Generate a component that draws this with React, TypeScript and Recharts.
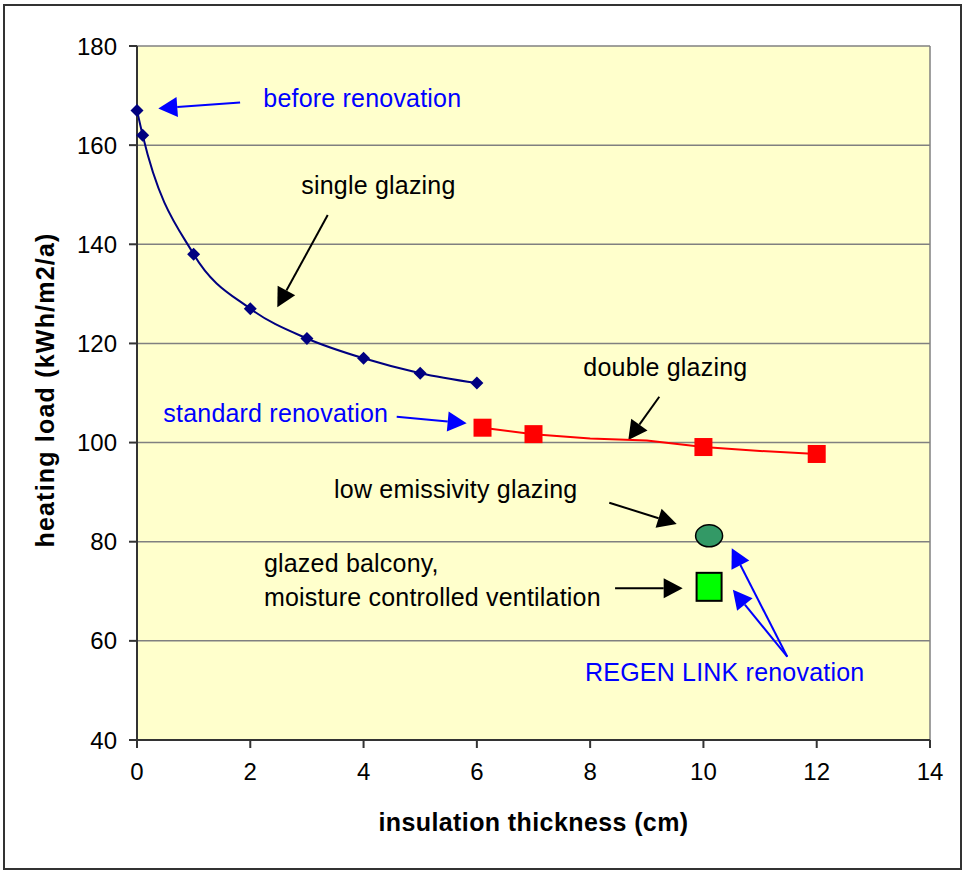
import React from "react"
import {
  ComposedChart,
  Line,
  Scatter,
  XAxis,
  YAxis,
  CartesianGrid,
  ReferenceLine,
  ReferenceDot,
  Label,
} from "recharts"

// insulation thickness (cm) / heating load (kWh/m2/a)
const singleX = [0, 0.1, 1, 2, 3, 4, 5, 6]
const singleY = [167, 162, 138, 127, 121, 117, 114, 112]

const doubleX = [6.1, 7, 8, 9, 10, 11, 12]
const doubleY = [103, 101.7, 100.8, 100.4, 99.1, 98.3, 97.7]
const doubleMarkX = [6.1, 7, 10, 12]
const doubleMarkY = [103, 101.7, 99.1, 97.7]

const lowEX = [10.1]
const lowEY = [81.2]
const balconyX = [10.1]
const balconyY = [70.9]

const xTicks = [0, 2, 4, 6, 8, 10, 12, 14]
const yTicks = [40, 60, 80, 100, 120, 140, 160, 180]

// annotations, in data units
const blueNotes = [
  { text: "before renovation", x: 2.23, y: 167.6 },
  { text: "standard renovation", x: 0.465, y: 104.1 },
  { text: "REGEN LINK renovation", x: 7.91, y: 51.9 },
]
const blackNotes = [
  { text: "single glazing", x: 2.9, y: 150.1 },
  { text: "double glazing", x: 7.88, y: 113.4 },
  { text: "low emissivity glazing", x: 3.48, y: 88.9 },
  { text: "glazed balcony,", x: 2.24, y: 73.8 },
  { text: "moisture controlled ventilation", x: 2.24, y: 67.0 },
]
const blueArrows = [
  { x1: 1.82, y1: 168.6, x2: 0.376, y2: 167.4 },
  { x1: 4.585, y1: 105.2, x2: 5.82, y2: 103.9 },
  { x1: 11.48, y1: 56.8, x2: 10.5, y2: 78.7 },
  { x1: 11.48, y1: 56.8, x2: 10.52, y2: 70.3 },
]
const blackArrows = [
  { x1: 3.367, y1: 145.9, x2: 2.477, y2: 127.3 },
  { x1: 9.221, y1: 109.25, x2: 8.674, y2: 100.5 },
  { x1: 8.338, y1: 87.87, x2: 9.528, y2: 83.57 },
  { x1: 8.44, y1: 70.6, x2: 9.634, y2: 70.6 },
]

const toPoints = (xs: number[], ys: number[]) => xs.map((x, i) => ({ x, y: ys[i] }))

const singleData = toPoints(singleX, singleY)
const doubleData = toPoints(doubleX, doubleY)
const doubleMarks = toPoints(doubleMarkX, doubleMarkY)
const lowEData = toPoints(lowEX, lowEY)
const balconyData = toPoints(balconyX, balconyY)

const FONT = "'Liberation Sans', Arial, Helvetica, sans-serif"

const Diamond = (props: any) => {
  const { cx, cy, index } = props
  const r = 6.5
  return (
    <path
      key={`d-${index}`}
      d={`M${cx},${cy - r}L${cx + r},${cy}L${cx},${cy + r}L${cx - r},${cy}Z`}
      fill="#000080"
    />
  )
}

const RedSquare = (props: any) => {
  const { cx, cy, index } = props
  return <rect key={`s-${index}`} x={cx - 9} y={cy - 9} width={18} height={18} fill="#FF0000" />
}

const arrowShape = (color: string) => (props: any) => {
  const { x1, y1, x2, y2 } = props
  if ([x1, y1, x2, y2].some((v) => typeof v !== "number")) return <g />
  const dx = x2 - x1
  const dy = y2 - y1
  const len = Math.sqrt(dx * dx + dy * dy)
  const ux = dx / len
  const uy = dy / len
  const L = 19
  const W = 10
  const bx = x2 - ux * L
  const by = y2 - uy * L
  return (
    <g>
      <line x1={x1} y1={y1} x2={bx} y2={by} stroke={color} strokeWidth={2} />
      <path
        d={`M${x2},${y2}L${bx - uy * W},${by + ux * W}L${bx + uy * W},${by - ux * W}Z`}
        fill={color}
      />
    </g>
  )
}

const noteShape = (text: string, color: string) => (props: any) => (
  <text
    x={props.cx}
    y={props.cy}
    fill={color}
    fontFamily={FONT}
    fontSize={25}
    letterSpacing={0.2}
  >
    {text}
  </text>
)

export default function App() {
  return (
    <div style={{ position: "absolute", left: 0, top: 0, width: 964, height: 870, background: "#fff" }}>
      <div
        style={{
          position: "absolute",
          left: 3,
          top: 4,
          width: 955,
          height: 862,
          border: "2px solid #333",
          pointerEvents: "none",
        }}
      />
      <ComposedChart
        width={964}
        height={870}
        margin={{ top: 46, right: 34, bottom: 0, left: 0 }}
        style={{ fontFamily: FONT }}
      >
        <CartesianGrid
          vertical={false}
          stroke="#808080"
          strokeWidth={1.5}
          fill="#FFFFCC"
          fillOpacity={1}
          horizontalValues={yTicks}
        />
        <XAxis
          type="number"
          dataKey="x"
          domain={[0, 14]}
          ticks={xTicks}
          height={130}
          tickSize={8}
          tickMargin={15}
          stroke="#333"
          strokeWidth={2}
          tick={{ fill: "#000", fontSize: 24, fontFamily: FONT }}
        >
          <Label
            content={(p: any) => {
              const vb = p.viewBox
              return (
                <text
                  x={vb.x + vb.width / 2}
                  y={vb.y + 91}
                  textAnchor="middle"
                  fontFamily={FONT}
                  fontSize={25}
                  fontWeight="bold"
                  letterSpacing={0.4}
                  fill="#000"
                >
                  insulation thickness (cm)
                </text>
              )
            }}
          />
        </XAxis>
        <YAxis
          type="number"
          dataKey="y"
          domain={[40, 180]}
          ticks={yTicks}
          width={137}
          tickSize={8}
          tickMargin={12}
          stroke="#333"
          strokeWidth={2}
          tick={{ fill: "#000", fontSize: 24, fontFamily: FONT }}
        >
          <Label
            content={(p: any) => {
              const vb = p.viewBox
              const cx = 54
              const cy = vb.y + vb.height / 2 - 3
              return (
                <text
                  x={cx}
                  y={cy}
                  textAnchor="middle"
                  transform={`rotate(-90, ${cx}, ${cy})`}
                  fontFamily={FONT}
                  fontSize={25}
                  fontWeight="bold"
                  letterSpacing={1.2}
                  fill="#000"
                >
                  heating load (kWh/m2/a)
                </text>
              )
            }}
          />
        </YAxis>
        <ReferenceLine x={14} stroke="#808080" strokeWidth={1.5} />

        {blueArrows.map((a, i) => (
          <ReferenceLine
            key={`ba-${i}`}
            segment={[{ x: a.x1, y: a.y1 }, { x: a.x2, y: a.y2 }]}
            shape={arrowShape("#0000FF")}
          />
        ))}
        {blackArrows.map((a, i) => (
          <ReferenceLine
            key={`ka-${i}`}
            segment={[{ x: a.x1, y: a.y1 }, { x: a.x2, y: a.y2 }]}
            shape={arrowShape("#000000")}
          />
        ))}
        {blueNotes.map((n, i) => (
          <ReferenceDot key={`bn-${i}`} x={n.x} y={n.y} r={0} shape={noteShape(n.text, "#0000FF")} />
        ))}
        {blackNotes.map((n, i) => (
          <ReferenceDot key={`kn-${i}`} x={n.x} y={n.y} r={0} shape={noteShape(n.text, "#000000")} />
        ))}

        <Line
          data={singleData}
          dataKey="y"
          type="monotone"
          stroke="#000080"
          strokeWidth={2}
          dot={Diamond}
          activeDot={false}
          isAnimationActive={false}
        />
        <Line
          data={doubleData}
          dataKey="y"
          type="linear"
          stroke="#FF0000"
          strokeWidth={2}
          dot={false}
          activeDot={false}
          isAnimationActive={false}
        />
        <Line
          data={doubleMarks}
          dataKey="y"
          stroke="none"
          dot={RedSquare}
          activeDot={false}
          isAnimationActive={false}
        />
        <Scatter
          data={lowEData}
          dataKey="y"
          isAnimationActive={false}
          shape={(p: any) => (
            <ellipse cx={p.cx} cy={p.cy} rx={13.5} ry={11} fill="#339966" stroke="#000" strokeWidth={1.5} />
          )}
        />
        <Scatter
          data={balconyData}
          dataKey="y"
          isAnimationActive={false}
          shape={(p: any) => (
            <rect x={p.cx - 12.5} y={p.cy - 14} width={25} height={28} fill="#00FF00" stroke="#000" strokeWidth={2} />
          )}
        />
      </ComposedChart>
    </div>
  )
}
